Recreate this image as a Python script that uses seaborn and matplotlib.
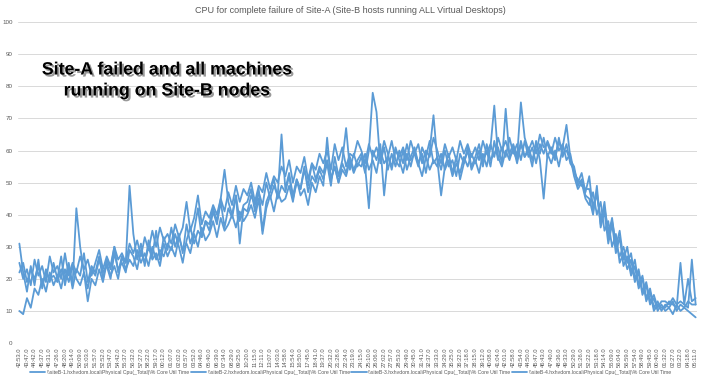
import numpy as np
import pandas as pd
import seaborn as sns
import matplotlib
matplotlib.use("Agg")
import matplotlib.pyplot as plt
import matplotlib.patheffects as pe

# Time labels shown on the x axis (one label every 2 samples)
tick_labels = ["42:53.0", "43:47.0", "44:42.0", "45:37.0", "46:31.0", "47:26.0", "48:20.0", "49:14.0",
               "50:09.0", "51:03.0", "51:57.0", "52:52.0", "53:47.0", "54:42.0", "55:37.0", "56:32.0",
               "57:27.0", "58:22.0", "59:17.0", "00:12.0", "01:07.0", "02:02.0", "02:57.0", "03:52.0",
               "04:46.0", "05:40.0", "06:39.0", "07:34.0", "08:29.0", "09:25.0", "10:20.0", "11:15.0",
               "12:11.0", "13:07.0", "14:03.0", "14:58.0", "15:54.0", "16:50.0", "17:45.0", "18:41.0",
               "19:37.0", "20:32.0", "21:28.0", "22:24.0", "23:19.0", "24:15.0", "25:10.0", "26:06.0",
               "27:02.0", "27:57.0", "28:53.0", "29:49.0", "30:45.0", "31:41.0", "32:37.0", "33:33.0",
               "34:29.0", "35:25.0", "36:22.0", "37:18.0", "38:15.0", "39:12.0", "40:08.0", "41:04.0",
               "42:01.0", "42:58.0", "43:54.0", "44:50.0", "45:47.0", "46:43.0", "47:40.0", "48:36.0",
               "49:33.0", "50:29.0", "51:26.0", "52:22.0", "53:18.0", "54:14.0", "55:09.0", "56:04.0",
               "56:59.0", "57:54.0", "58:49.0", "59:45.0", "00:40.0", "01:32.0", "02:27.0", "03:22.0",
               "04:18.0", "05:11.0"]

series_names = [r"\\siteB-1.hxhvdom.local\Physical Cpu(_Total)\% Core Util Time",
                r"\\siteB-2.hxhvdom.local\Physical Cpu(_Total)\% Core Util Time",
                r"\\siteB-3.hxhvdom.local\Physical Cpu(_Total)\% Core Util Time",
                r"\\siteB-4.hxhvdom.local\Physical Cpu(_Total)\% Core Util Time"]

# CPU % per host
host1 = [31, 22, 16, 24, 18, 26, 17, 23, 19, 25,
         20, 27, 18, 24, 17, 23, 21, 28, 19, 24,
         22, 27, 20, 26, 23, 30, 22, 27, 25, 49,
         34, 26, 31, 24, 32, 27, 35, 26, 33, 29,
         36, 30, 34, 28, 37, 31, 35, 42, 33, 38,
         35, 41, 37, 44, 36, 42, 39, 46, 38, 43,
         44, 48, 41, 47, 43, 50, 45, 49, 46, 65,
         48, 53, 46, 51, 48, 55, 47, 52, 50, 54,
         51, 56, 49, 58, 52, 57, 67, 54, 59, 55,
         58, 53, 60, 78, 72, 56, 61, 54, 59, 55,
         60, 56, 62, 57, 59, 55, 61, 58, 63, 56,
         58, 54, 60, 55, 57, 52, 59, 56, 61, 55,
         58, 62, 56, 60, 55, 63, 57, 61, 58, 64,
         59, 62, 57, 63, 58, 61, 56, 62, 59, 63,
         60, 57, 64, 58, 62, 56, 54, 50, 53, 47,
         52, 41, 47, 37, 44, 33, 39, 30, 35, 26,
         30, 22, 26, 18, 21, 14, 17, 11, 13, 10,
         12, 11, 13, 10, 12, 11, 13, 12, 12]

host2 = [10, 9, 14, 11, 17, 15, 20, 16, 22, 18,
         21, 17, 23, 19, 24, 20, 18, 22, 13, 20,
         18, 23, 19, 25, 21, 24, 20, 27, 23, 26,
         24, 29, 25, 28, 24, 30, 26, 29, 27, 31,
         29, 34, 30, 25, 32, 36, 31, 35, 33, 38,
         37, 42, 38, 45, 54, 44, 40, 46, 31, 42,
         41, 46, 43, 48, 35, 44, 47, 51, 45, 49,
         47, 52, 45, 50, 48, 54, 49, 56, 51, 55,
         53, 57, 51, 55, 50, 56, 53, 58, 54, 57,
         59, 55, 42, 60, 57, 62, 46, 58, 63, 57,
         55, 60, 54, 58, 61, 56, 59, 53, 60, 71,
         57, 46, 55, 59, 53, 58, 51, 56, 60, 54,
         57, 53, 59, 55, 61, 74, 58, 55, 60, 57,
         61, 56, 62, 58, 60, 55, 63, 57, 45, 59,
         56, 60, 55, 61, 68, 58, 52, 48, 50, 45,
         43, 47, 40, 44, 35, 38, 30, 34, 25, 28,
         23, 26, 19, 22, 15, 18, 12, 14, 10, 12,
         10, 11, 9, 12, 10, 11, 10, 9, 8]

host3 = [22, 25, 19, 23, 20, 24, 18, 22, 20, 21,
         19, 23, 20, 25, 18, 42, 30, 22, 17, 23,
         21, 26, 22, 24, 20, 28, 23, 25, 22, 29,
         27, 23, 29, 25, 30, 26, 28, 24, 31, 27,
         30, 27, 33, 29, 31, 28, 34, 30, 36, 32,
         34, 38, 33, 39, 35, 37, 40, 36, 41, 38,
         40, 43, 39, 45, 34, 42, 46, 41, 47, 44,
         45, 49, 44, 51, 46, 48, 43, 50, 47, 52,
         49, 64, 51, 55, 50, 54, 52, 57, 53, 56,
         55, 59, 54, 57, 53, 60, 56, 58, 55, 61,
         57, 53, 59, 55, 60, 56, 52, 58, 54, 57,
         55, 59, 54, 57, 52, 56, 53, 58, 55, 59,
         56, 60, 55, 62, 57, 59, 61, 56, 73, 58,
         60, 57, 63, 58, 61, 57, 62, 59, 64, 58,
         61, 58, 63, 59, 60, 57, 55, 49, 51, 46,
         45, 40, 49, 36, 41, 31, 37, 28, 33, 24,
         27, 21, 24, 17, 20, 13, 16, 10, 12, 11,
         11, 13, 12, 11, 25, 12, 20, 13, 14]

host4 = [25, 20, 23, 18, 26, 21, 24, 19, 27, 22,
         24, 20, 28, 21, 25, 22, 27, 23, 26, 21,
         25, 29, 23, 27, 24, 30, 26, 28, 25, 31,
         28, 32, 27, 33, 29, 35, 30, 36, 32, 34,
         31, 37, 33, 36, 44, 35, 39, 46, 37, 41,
         39, 43, 40, 45, 41, 47, 43, 49, 44, 48,
         46, 50, 44, 49, 47, 53, 48, 52, 50, 55,
         52, 57, 50, 55, 53, 58, 51, 56, 54, 59,
         56, 60, 54, 62, 57, 61, 55, 59, 58, 63,
         60, 56, 62, 58, 61, 57, 63, 59, 54, 60,
         58, 61, 57, 63, 59, 62, 56, 60, 58, 64,
         60, 56, 62, 58, 61, 57, 63, 59, 62, 58,
         61, 57, 63, 59, 62, 58, 64, 60, 63, 59,
         62, 58, 75, 64, 60, 63, 59, 65, 61, 62,
         59, 64, 60, 62, 57, 59, 53, 51, 49, 48,
         48, 43, 46, 39, 42, 35, 38, 31, 27, 30,
         25, 28, 20, 23, 16, 19, 13, 15, 11, 13,
         13, 12, 14, 12, 13, 12, 11, 26, 12]

# Long format for seaborn
frames = []
for name, vals in zip(series_names, [host1, host2, host3, host4]):
    frames.append(pd.DataFrame({"sample": np.arange(len(vals)), "cpu": vals, "host": name}))
df = pd.concat(frames, ignore_index=True)

sns.set_theme(style="white")
plt.rcParams['font.family'] = ['Liberation Sans', 'DejaVu Sans']

fig = plt.figure(figsize=(7.01, 3.82), dpi=100)
ax = fig.add_axes([0.026, 0.102, 0.968, 0.840])

blue = "#5B9BD5"
sns.lineplot(data=df, x="sample", y="cpu", hue="host", palette=[blue] * 4,
             linewidth=1.3, ax=ax)

# Axes styling (Excel look)
ax.set_ylim(0, 100)
ax.set_yticks(range(0, 101, 10))
ax.set_xlim(-0.3, len(host1) - 1 + 0.3)
ax.set_xticks(np.arange(len(tick_labels)) * 2)
ax.set_xticklabels(tick_labels, rotation=90)
ax.tick_params(axis="x", labelsize=4.2, colors="#595959", length=0, pad=3)
ax.tick_params(axis="y", labelsize=4.5, colors="#595959", length=0, pad=4)
ax.yaxis.grid(True, color="#D9D9D9", linewidth=0.7)
ax.set_axisbelow(True)
for s in ax.spines.values():
    s.set_visible(False)
ax.set_xlabel("")
ax.set_ylabel("")

# Legend at the bottom
handles, labels = ax.get_legend_handles_labels()
ax.get_legend().remove()
fig.legend(handles, labels, loc="center", bbox_to_anchor=(0.5, 0.026), ncol=4,
           frameon=False, fontsize=3.7, handlelength=3.0, handletextpad=0.3,
           columnspacing=0.3, labelcolor="#595959")

# Title
fig.text(0.5, 0.972, "CPU for complete failure of Site-A (Site-B hosts running ALL Virtual Desktops)",
         ha="center", va="center", fontsize=6.5, color="#595959")

# Annotation with drop shadow
shadow = [pe.withSimplePatchShadow(offset=(1.5, -1.5), shadow_rgbFace="#555555", alpha=0.6)]
fig.text(167 / 701, 1 - 70 / 382, "Site-A failed and all machines", ha="center", va="center",
         fontsize=12.8, fontweight="bold", color="black", path_effects=shadow)
fig.text(167 / 701, 1 - 91 / 382, "running on Site-B nodes", ha="center", va="center",
         fontsize=12.8, fontweight="bold", color="black", path_effects=shadow)

fig.savefig("out.png", dpi=100)
